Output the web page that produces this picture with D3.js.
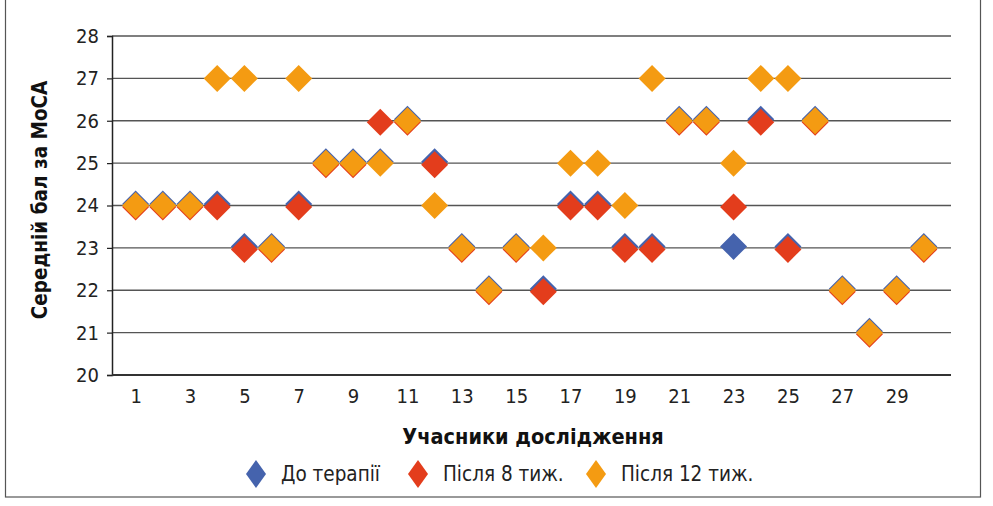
<!DOCTYPE html>
<html>
<head>
<meta charset="utf-8">
<script src="https://cdn.jsdelivr.net/npm/d3@7"></script>
<style>
  body { margin: 0; background: #fff; }
  text { font-family: "DejaVu Sans Condensed", "Liberation Sans", sans-serif; }
</style>
</head>
<body>
<svg id="chart" width="993" height="506"></svg>
<script>
// participants 1..30
const participants = d3.range(1, 31);
const beforeTherapy = [24, 24, 24, 24, 23, 23, 24, 25, 25, 25, 26, 25, 23, 22, 23, 22, 24, 24, 23, 23, 26, 26, 23, 26, 23, 26, 22, 21, 22, 23];
const after8Weeks   = [24, 24, 24, 24, 23, 23, 24, 25, 25, 26, 26, 25, 23, 22, 23, 22, 24, 24, 23, 23, 26, 26, 24, 26, 23, 26, 22, 21, 22, 23];
const after12Weeks  = [24, 24, 24, 27, 27, 23, 27, 25, 25, 25, 26, 24, 23, 22, 23, 23, 25, 25, 24, 27, 26, 26, 25, 27, 27, 26, 22, 21, 22, 23];
const yTicks = [20, 21, 22, 23, 24, 25, 26, 27, 28];
const xTicks = [1, 3, 5, 7, 9, 11, 13, 15, 17, 19, 21, 23, 25, 27, 29];

const series = [
    { name: "До терапії", values: beforeTherapy, color: "#4563ad", dy: -1.5 },
    { name: "Після 8 тиж.", values: after8Weeks, color: "#e33d1c", dy: 1.5 },
    { name: "Після 12 тиж.", values: after12Weeks, color: "#f49b12", dy: 0 }
];

const svg = d3.select("#chart");

// outer frame
svg.append("rect")
    .attr("x", 5.5).attr("y", -1)
    .attr("width", 975).attr("height", 498)
    .style("fill", "none")
    .style("stroke", "#555")
    .style("stroke-width", 1.2);

const x = d3.scaleLinear().domain([0.13, 31]).range([112, 951]);
const y = d3.scaleLinear().domain([20, 28]).range([375, 36]);

// gridlines
svg.append("g").selectAll("line")
    .data(yTicks.filter(d => d > 20))
    .join("line")
    .attr("x1", 112).attr("x2", 951)
    .attr("y1", d => y(d)).attr("y2", d => y(d))
    .style("stroke", "#555")
    .style("stroke-width", 1.3);

// y axis
const yAxis = svg.append("g")
    .attr("transform", "translate(112,0)")
    .call(d3.axisLeft(y).tickValues(yTicks).tickSize(5).tickPadding(8));
yAxis.select(".domain").style("stroke", "#222").style("stroke-width", 1.5);
yAxis.selectAll(".tick line").style("stroke", "#222").style("stroke-width", 1.2);
yAxis.selectAll("text").style("font-size", "20px").style("fill", "#222");

// x axis
const xAxis = svg.append("g")
    .attr("transform", "translate(0,375)")
    .call(d3.axisBottom(x).tickValues(xTicks).tickSize(0).tickPadding(14).tickFormat(d3.format("d")));
xAxis.select(".domain").attr("d", "M112,0H951").style("stroke", "#333").style("stroke-width", 1.8);
xAxis.selectAll("text").style("font-size", "20px").style("fill", "#222");

// diamonds
const diamond = (w, h) => `M0,${-h}L${w},0L0,${h}L${-w},0Z`;

series.forEach(s => {
    svg.append("g").selectAll("path")
        .data(participants.map((p, i) => ({ p: p, v: s.values[i] })))
        .join("path")
        .attr("d", diamond(13.5, 13.5))
        .attr("transform", d => `translate(${x(d.p)},${y(d.v) + s.dy})`)
        .style("fill", s.color);
});

// axis titles
svg.append("text")
    .attr("x", 533).attr("y", 444)
    .attr("text-anchor", "middle")
    .style("font-weight", "bold")
    .style("font-size", "21.5px")
    .style("fill", "#111")
    .text("Учасники дослідження");

svg.append("text")
    .attr("transform", "translate(47,200) rotate(-90)")
    .attr("text-anchor", "middle")
    .style("font-weight", "bold")
    .style("font-size", "20.5px")
    .style("fill", "#111")
    .text("Середній бал за МоСА");

// legend
const legendX = [256, 418, 596];
const legend = svg.append("g").selectAll("g")
    .data(series)
    .join("g")
    .attr("transform", (d, i) => `translate(${legendX[i]},474)`);
legend.append("path")
    .attr("d", diamond(10, 14))
    .style("fill", d => d.color);
legend.append("text")
    .attr("x", 25).attr("y", 7)
    .style("font-size", "20.5px")
    .style("fill", "#222")
    .text(d => d.name);
</script>
</body>
</html>
